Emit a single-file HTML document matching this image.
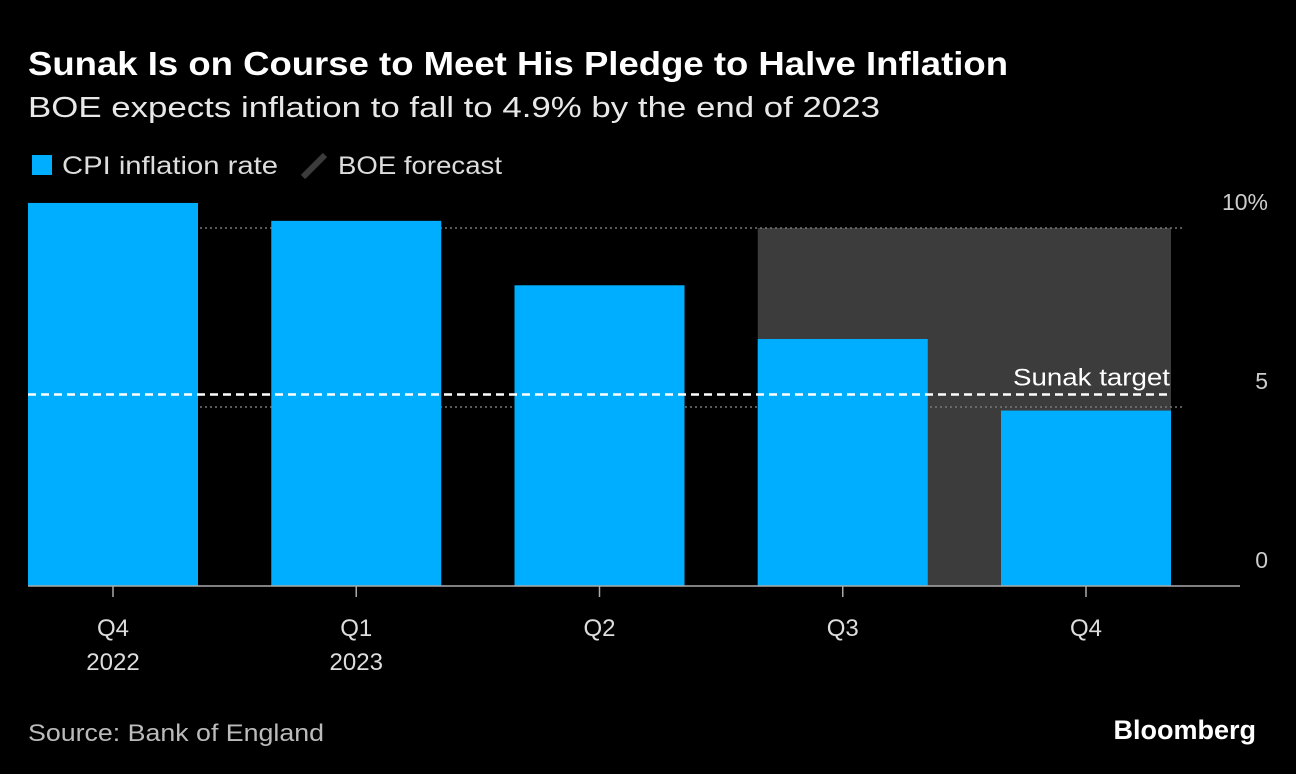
<!DOCTYPE html>
<html><head><meta charset="utf-8"><style>
body{margin:0;background:#000;width:1296px;height:774px;overflow:hidden;font-family:"Liberation Sans",sans-serif;color:#ddd}
svg{position:absolute;left:0;top:0}
</style></head><body>
<svg id="c" width="1296" height="774">
<text x="28" y="75" font-size="33" font-weight="bold" fill="#fff" textLength="980" lengthAdjust="spacingAndGlyphs">Sunak Is on Course to Meet His Pledge to Halve Inflation</text>
<text x="28" y="117" font-size="29" fill="#e8e8e8" textLength="852" lengthAdjust="spacingAndGlyphs">BOE expects inflation to fall to 4.9% by the end of 2023</text>
<g>
<rect x="32" y="155" width="20" height="20" fill="#00aeff"/>
<text x="62" y="174" font-size="25" fill="#ddd" textLength="216" lengthAdjust="spacingAndGlyphs">CPI inflation rate</text>
<line x1="303" y1="177" x2="325" y2="155" stroke="#3c3c3c" stroke-width="6"/>
<text x="338" y="174" font-size="25" fill="#ddd" textLength="164" lengthAdjust="spacingAndGlyphs">BOE forecast</text>
</g>
<text x="28" y="741" font-size="24" fill="#bbb" textLength="296" lengthAdjust="spacingAndGlyphs">Source: Bank of England</text>
<text x="1256" y="739" font-size="27" font-weight="bold" fill="#fff" text-anchor="end">Bloomberg</text>
</svg>
<script>
const categories=["Q4","Q1","Q2","Q3","Q4"];
const years=["2022","2023","","",""];
const values=[10.7,10.2,8.4,6.9,4.9];
const yTicks=[0,5,10];
const target=5.35;
const forecastStart=3;
const forecastTop=10;
const svg=document.getElementById('c');
const NS="http://www.w3.org/2000/svg";
const y=v=>586-v*35.8;
const step=243.25, bw=170, x0=28;
const bx=i=>x0+i*step;
function mk(t,a){const e=document.createElementNS(NS,t);for(const k in a)e.setAttribute(k,a[k]);svg.appendChild(e);return e;}
const sh=mk('rect',{x:bx(forecastStart),y:y(forecastTop),width:bx(categories.length-1)+bw-bx(forecastStart),height:y(0)-y(forecastTop),fill:'#3c3c3c'});


yTicks.forEach(t=>{
 if(t>0){const g=mk('line',{x1:200,x2:1185,y1:y(t),y2:y(t),stroke:'#777','stroke-width':1.5,'stroke-dasharray':'2 3'});
 
 }
 const l=mk('text',{x:1268,y:y(t)-18,'font-size':23,fill:'#ccc','text-anchor':'end'});
 l.textContent=t===10?'10%':String(t);
 
 
});
values.forEach((v,i)=>{
 const r=mk('rect',{x:bx(i),y:y(v),width:bw,height:y(0)-y(v),fill:'#00aeff'});
 
 
 const cx=bx(i)+bw/2;
 const tk=mk('line',{x1:cx,x2:cx,y1:586,y2:597,stroke:'#aaa','stroke-width':1.5});
 
 
 const t=mk('text',{x:cx,y:636,'font-size':24,fill:'#ddd','text-anchor':'middle'});
 t.textContent=categories[i];
 
 
 if(years[i]){const t2=mk('text',{x:cx,y:670,'font-size':24,fill:'#ddd','text-anchor':'middle'});
 t2.textContent=years[i];
 
 }
});
const ax=mk('line',{x1:28,x2:1240,y1:586,y2:586,stroke:'#aaa','stroke-width':1.5});


const tl=mk('line',{x1:28,x2:1171,y1:y(target),y2:y(target),stroke:'#fff','stroke-width':2.5,'stroke-dasharray':'8 5'});


const tt=mk('text',{x:1170,y:y(target)-9,'font-size':24,fill:'#fff','text-anchor':'end',textLength:157,lengthAdjust:'spacingAndGlyphs'});
tt.textContent='Sunak target';


</script>
</body></html>
